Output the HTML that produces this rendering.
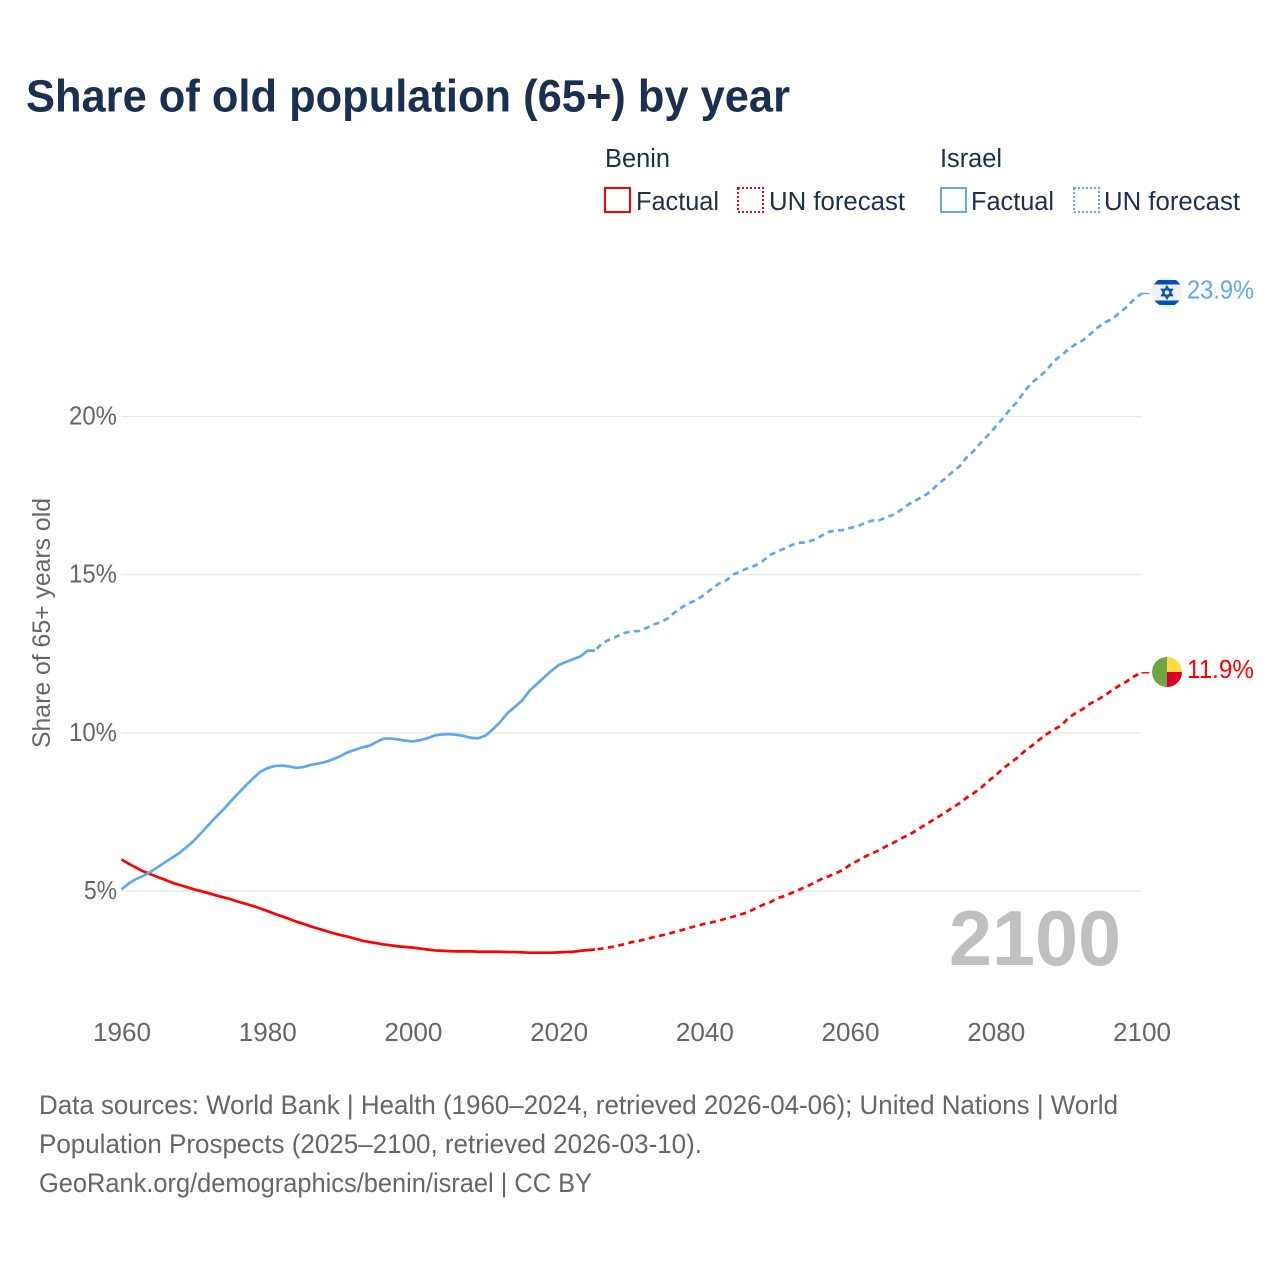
<!DOCTYPE html>
<html lang="en">
<head>
<meta charset="utf-8">
<title>Share of old population (65+) by year</title>
<style>
  html, body { margin: 0; padding: 0; background: #fff; }
  svg { display: block; }
  text { font-family: "Liberation Sans", sans-serif; }
</style>
</head>
<body>
<svg id="chart" xmlns="http://www.w3.org/2000/svg" width="1280" height="1280" viewBox="0 0 1280 1280">
  <rect width="1280" height="1280" fill="#ffffff"/>

  <text x="26" y="111.5" font-size="45" font-weight="700" fill="#1a3050" textLength="764" lengthAdjust="spacingAndGlyphs">Share of old population (65+) by year</text>

  <g>
    <text x="605" y="167" font-size="25.5" fill="#1a3050" textLength="65" lengthAdjust="spacingAndGlyphs">Benin</text>
    <text x="940" y="167" font-size="25.5" fill="#1a3050" textLength="62" lengthAdjust="spacingAndGlyphs">Israel</text>

    <g>
      <rect x="605" y="188" width="25" height="24" fill="none" stroke="#ff0000" stroke-width="2"/>
      <text x="636" y="210" font-size="25.5" fill="#1a3050" textLength="83" lengthAdjust="spacingAndGlyphs">Factual</text>
    </g>
    <g>
      <rect x="738" y="188" width="25" height="24" fill="none" stroke="#ff0000" stroke-width="2" stroke-dasharray="2 2"/>
      <text x="769" y="210" font-size="25.5" fill="#1a3050" textLength="136" lengthAdjust="spacingAndGlyphs">UN forecast</text>
    </g>
    <g>
      <rect x="941" y="188" width="25" height="24" fill="none" stroke="#5fa8ee" stroke-width="2"/>
      <text x="971" y="210" font-size="25.5" fill="#1a3050" textLength="83" lengthAdjust="spacingAndGlyphs">Factual</text>
    </g>
    <g>
      <rect x="1074" y="188" width="25" height="24" fill="none" stroke="#5fa8ee" stroke-width="2" stroke-dasharray="2 2"/>
      <text x="1104" y="210" font-size="25.5" fill="#1a3050" textLength="136" lengthAdjust="spacingAndGlyphs">UN forecast</text>
    </g>
  </g>

  <text transform="translate(50,748) rotate(-90)" x="0" y="0" font-size="25" fill="#666666" textLength="250" lengthAdjust="spacingAndGlyphs">Share of 65+ years old</text>

  <g id="grid"></g>
  <g id="y-ticks"></g>
  <g id="x-ticks"></g>

  <text x="949" y="965" font-size="78" font-weight="700" fill="#c0c0c0" textLength="172" lengthAdjust="spacingAndGlyphs">2100</text>

  <g id="series"></g>

  <defs>
    <clipPath id="flag-clip-israel"><circle cx="1167" cy="292" r="15"/></clipPath>
  </defs>
  <g>
    <path d="M1167 657 A15 15 0 0 0 1167 687 Z" fill="#6da544"/>
    <path d="M1167 657 A15 15 0 0 1 1182 672 L1167 672 Z" fill="#ffda44"/>
    <path d="M1167 687 A15 15 0 0 0 1182 672 L1167 672 Z" fill="#d80027"/>
  </g>
  <g>
    <circle cx="1167" cy="292" r="15" fill="#f0f0f0"/>
    <g clip-path="url(#flag-clip-israel)">
      <rect x="1150" y="280" width="34" height="4.5" fill="#0052b4"/>
      <rect x="1150" y="300.5" width="34" height="4.5" fill="#0052b4"/>
    </g>
    <polygon points="1167,286.5 1172.2,295.5 1161.8,295.5" fill="none" stroke="#0052b4" stroke-width="1.7"/>
    <polygon points="1167,298.5 1172.2,289.5 1161.8,289.5" fill="none" stroke="#0052b4" stroke-width="1.7"/>
  </g>

  <g id="end-labels"></g>

  <g>
    <text x="39" y="1114" font-size="26.5" fill="#666666" textLength="1079" lengthAdjust="spacingAndGlyphs">Data sources: World Bank | Health (1960–2024, retrieved 2026-04-06); United Nations | World</text>
    <text x="39" y="1153" font-size="26.5" fill="#666666" textLength="663" lengthAdjust="spacingAndGlyphs">Population Prospects (2025–2100, retrieved 2026-03-10).</text>
    <text x="39" y="1192" font-size="26.5" fill="#666666" textLength="553" lengthAdjust="spacingAndGlyphs">GeoRank.org/demographics/benin/israel | CC BY</text>
  </g>
</svg>

<script>
const firstFactualYear = 1960;
const firstForecastYear = 2025;

const xTickYears = [1960, 1980, 2000, 2020, 2040, 2060, 2080, 2100];
const yTickValues = [5, 10, 15, 20];

const beninFactual = [
  6.00, 5.86, 5.74, 5.62, 5.53, 5.44, 5.35, 5.26, 5.19, 5.12,
  5.05, 4.99, 4.93, 4.86, 4.80, 4.74, 4.66, 4.60, 4.53, 4.45,
  4.37, 4.28, 4.20, 4.12, 4.03, 3.96, 3.88, 3.81, 3.74, 3.67,
  3.61, 3.56, 3.50, 3.43, 3.39, 3.35, 3.31, 3.28, 3.25, 3.23,
  3.21, 3.18, 3.15, 3.12, 3.11, 3.10, 3.09, 3.09, 3.09, 3.08,
  3.08, 3.08, 3.08, 3.07, 3.07, 3.06, 3.05, 3.05, 3.05, 3.05,
  3.06, 3.07, 3.08, 3.11, 3.13, 3.15
];

const beninForecast = [
  3.15, 3.18, 3.22, 3.26, 3.32, 3.38, 3.42, 3.48, 3.54, 3.59,
  3.64, 3.71, 3.77, 3.84, 3.90, 3.96, 4.01, 4.06, 4.13, 4.19,
  4.26, 4.33, 4.45, 4.56, 4.64, 4.77, 4.84, 4.94, 5.04, 5.14,
  5.25, 5.37, 5.46, 5.56, 5.66, 5.83, 5.95, 6.08, 6.19, 6.29,
  6.42, 6.53, 6.66, 6.77, 6.90, 7.05, 7.19, 7.33, 7.47, 7.63,
  7.77, 7.95, 8.10, 8.27, 8.48, 8.66, 8.87, 9.05, 9.22, 9.43,
  9.60, 9.79, 9.96, 10.11, 10.23, 10.48, 10.63, 10.76, 10.93, 11.05,
  11.19, 11.35, 11.50, 11.63, 11.79, 11.90
];

const israelFactual = [
  5.05, 5.24, 5.38, 5.48, 5.61, 5.76, 5.91, 6.06, 6.21, 6.40,
  6.61, 6.85, 7.10, 7.35, 7.58, 7.84, 8.08, 8.32, 8.55, 8.76,
  8.88, 8.95, 8.97, 8.94, 8.89, 8.92, 8.99, 9.03, 9.08, 9.16,
  9.26, 9.38, 9.46, 9.54, 9.59, 9.71, 9.82, 9.82, 9.79, 9.75,
  9.73, 9.77, 9.83, 9.92, 9.95, 9.96, 9.94, 9.90, 9.84, 9.83,
  9.92, 10.12, 10.35, 10.63, 10.82, 11.03, 11.33, 11.54, 11.75, 11.96,
  12.14, 12.24, 12.33, 12.42, 12.60, 12.60
];

const israelForecast = [
  12.60, 12.84, 12.95, 13.05, 13.16, 13.21, 13.22, 13.31, 13.42, 13.50,
  13.62, 13.82, 13.98, 14.11, 14.21, 14.37, 14.55, 14.72, 14.82, 15.01,
  15.11, 15.21, 15.29, 15.43, 15.62, 15.73, 15.83, 15.94, 16.01, 16.02,
  16.10, 16.22, 16.35, 16.40, 16.41, 16.48, 16.53, 16.63, 16.71, 16.72,
  16.82, 16.90, 17.05, 17.22, 17.35, 17.47, 17.62, 17.85, 18.03, 18.24,
  18.42, 18.71, 18.92, 19.19, 19.43, 19.69, 19.95, 20.24, 20.48, 20.82,
  21.08, 21.26, 21.47, 21.76, 21.93, 22.14, 22.29, 22.42, 22.61, 22.82,
  22.98, 23.08, 23.29, 23.47, 23.71, 23.89
];

const SVG_NS = 'http://www.w3.org/2000/svg';
const BENIN_RED = '#ff0000';
const ISRAEL_BLUE = '#5fa8ee';

function xScale(year) { return 121.5 + (year - 1960) * 7.2857; }
function yScale(value) { return 891 - (value - 5) * 31.63; }

function make(tag, attrs) {
  const el = document.createElementNS(SVG_NS, tag);
  for (const key in attrs) el.setAttribute(key, attrs[key]);
  return el;
}

function pathFrom(startYear, values) {
  return values.map(function (v, i) {
    return (i ? 'L' : 'M') + xScale(startYear + i).toFixed(2) + ' ' + yScale(v).toFixed(2);
  }).join(' ');
}

const gridGroup = document.getElementById('grid');
const yTickGroup = document.getElementById('y-ticks');
const xTickGroup = document.getElementById('x-ticks');
const seriesGroup = document.getElementById('series');
const endLabelGroup = document.getElementById('end-labels');

yTickValues.forEach(function (v) {
  const line = make('line', { x1: xScale(1960), x2: xScale(2100), y1: yScale(v), y2: yScale(v), stroke: '#e6e6e6', 'stroke-width': 1.2 });
  
  
  gridGroup.appendChild(line);

  const label = String(v) + '%';
  const t = make('text', { x: 117, y: yScale(v) + 8, 'text-anchor': 'end', 'font-size': 25.5, fill: '#666666', textLength: v < 10 ? 33 : 48, lengthAdjust: 'spacingAndGlyphs' });
  
  
  t.textContent = label;
  yTickGroup.appendChild(t);
});

xTickYears.forEach(function (year) {
  const t = make('text', { x: xScale(year) + 0.5, y: 1041, 'text-anchor': 'middle', 'font-size': 25.5, fill: '#666666', textLength: 58, lengthAdjust: 'spacingAndGlyphs' });
  
  
  t.textContent = String(year);
  xTickGroup.appendChild(t);
});

function drawCountry(name, color, factual, forecast) {
  const solid = make('path', { d: pathFrom(firstFactualYear, factual), fill: 'none', stroke: color, 'stroke-width': 2.7, 'stroke-linejoin': 'round' });
  
  
  seriesGroup.appendChild(solid);

  const dashed = make('path', { d: pathFrom(firstForecastYear, forecast), fill: 'none', stroke: color, 'stroke-width': 2.7, 'stroke-dasharray': '6 4.5', 'stroke-dashoffset': 8, 'stroke-linejoin': 'round' });
  
  
  seriesGroup.appendChild(dashed);

  const lastValue = forecast[forecast.length - 1];
  const lastY = yScale(lastValue);
  const lastX = xScale(firstForecastYear + forecast.length - 1);
  const connector = make('line', { x1: lastX, x2: lastX + 8, y1: lastY, y2: lastY, stroke: color, 'stroke-width': 1.4 });
  
  
  seriesGroup.appendChild(connector);

  const label = make('text', { x: 1254, y: lastY + 5, 'text-anchor': 'end', 'font-size': 25.5, fill: color, textLength: 67, lengthAdjust: 'spacingAndGlyphs' });
  
  
  label.textContent = lastValue.toFixed(1) + '%';
  endLabelGroup.appendChild(label);
}

drawCountry('benin', BENIN_RED, beninFactual, beninForecast);
drawCountry('israel', ISRAEL_BLUE, israelFactual, israelForecast);
</script>
</body>
</html>
